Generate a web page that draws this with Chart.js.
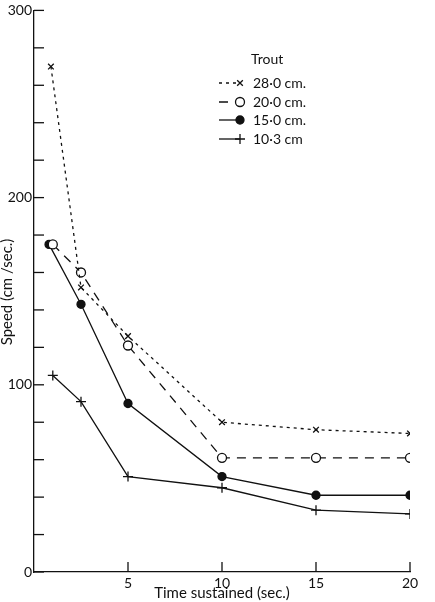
<!DOCTYPE html>
<html>
<head>
<meta charset="utf-8">
<script src="https://cdn.jsdelivr.net/npm/chart.js@4/dist/chart.umd.min.js"></script>
<style>
  html, body { margin: 0; padding: 0; background: #fff; }
  #wrap { width: 435px; height: 602px; }
</style>
</head>
<body>
<div id="wrap"><canvas id="trout" width="435" height="602"></canvas></div>
<script>
// Trout — sustained swimming speed vs time sustained
const seriesLabels = ["28·0 cm.", "20·0 cm.", "15·0 cm.", "10·3 cm"]

const times28  = [0.9, 2.5, 5, 10, 15, 20]
const speed28  = [270, 152, 126, 80, 76, 74]

const times20  = [1, 2.5, 5, 10, 15, 20]
const speed20  = [175, 160, 121, 61, 61, 61]

const times15  = [0.8, 2.5, 5, 10, 15, 20]
const speed15  = [175, 143, 90, 51, 41, 41]

const times103 = [1, 2.5, 5, 10, 15, 20]
const speed103 = [105, 91, 51, 45, 33, 31]

const yTickLabels = [0, 100, 200, 300]
const xTickLabels = [5, 10, 15, 20]

const ink  = "#111"
const font = "Lato, 'Open Sans', sans-serif"

const pairs = (xs, ys) => xs.map((x, i) => ({ x, y: ys[i] }))

const styles = [
  { dash: [3, 4],  pointStyle: "crossRot", radius: 4,   fill: ink },
  { dash: [9, 7],  pointStyle: "circle",   radius: 4.5, fill: "#fff" },
  { dash: [],      pointStyle: "circle",   radius: 4,   fill: ink },
  { dash: [],      pointStyle: "cross",    radius: 5,   fill: ink }
]

const series = [
  pairs(times28, speed28),
  pairs(times20, speed20),
  pairs(times15, speed15),
  pairs(times103, speed103)
]

// ── inward ticks, legend, y title ─────────────────────────────────────────
const extras = {
  id: "extras",
  afterDraw(chart) {
    const { ctx, chartArea: a, scales } = chart
    ctx.save()
    ctx.strokeStyle = ink
    ctx.lineWidth = 1.3

    scales.y.ticks.forEach(t => {
      const y = scales.y.getPixelForValue(t.value)
      ctx.beginPath()
      ctx.moveTo(a.left, y)
      ctx.lineTo(a.left + 10, y)
      ctx.stroke()
    })
    scales.x.ticks.forEach(t => {
      if (t.value === 0) return
      const x = scales.x.getPixelForValue(t.value)
      ctx.beginPath()
      ctx.moveTo(x, a.bottom)
      ctx.lineTo(x, a.bottom - 10)
      ctx.stroke()
    })

    // y title
    ctx.fillStyle = ink
    ctx.font = "15px " + font
    ctx.textAlign = "center"
    ctx.textBaseline = "middle"
    ctx.translate(7, 292)
    ctx.rotate(-Math.PI / 2)
    ctx.fillText("Speed (cm /sec.)", 0, 0)
    ctx.restore()

    // legend
    ctx.save()
    ctx.fillStyle = ink
    ctx.strokeStyle = ink
    ctx.font = "14px " + font
    ctx.textBaseline = "middle"
    ctx.textAlign = "left"
    ctx.fillText("Trout", 251, 59)
    const rows = [83, 102, 120, 139]
    seriesLabels.forEach((lab, i) => {
      const s = styles[i]
      const y = rows[i]
      ctx.lineWidth = 1.3
      ctx.setLineDash(s.dash)
      ctx.beginPath()
      ctx.moveTo(219, y)
      ctx.lineTo(240, y)
      ctx.stroke()
      ctx.setLineDash([])
      ctx.fillStyle = s.fill
      Chart.helpers.drawPoint(ctx, { pointStyle: s.pointStyle, radius: s.radius, borderWidth: 1.3, rotation: 0 }, 240, y)
      ctx.fillStyle = ink
      ctx.fillText(lab, 253, y)
    })
    ctx.restore()
  }
}

new Chart(document.getElementById("trout"), {
  type: "line",
  data: {
    datasets: series.map((data, i) => ({
      label: seriesLabels[i],
      data,
      borderColor: ink,
      borderWidth: 1.3,
      borderDash: styles[i].dash,
      tension: 0,
      pointStyle: styles[i].pointStyle,
      pointRadius: styles[i].radius,
      pointBorderColor: ink,
      pointBorderWidth: 1.3,
      pointBackgroundColor: styles[i].fill
    }))
  },
  options: {
    responsive: false,
    animation: false,
    layout: { padding: { top: 8, right: 25, left: 0, bottom: 0 } },
    plugins: { legend: { display: false }, tooltip: { enabled: false } },
    scales: {
      x: {
        type: "linear",
        min: 0,
        max: 20,
        grid: { display: false, drawTicks: false },
        border: { display: true, color: ink, width: 1.3 },
        ticks: {
          stepSize: 5,
          padding: 3,
          color: ink,
          font: { family: font, size: 14 },
          callback: v => xTickLabels.includes(v) ? String(v) : ""
        },
        title: {
          display: true,
          text: "Time sustained (sec.)",
          color: ink,
          font: { family: font, size: 15 },
          padding: { top: 0, bottom: 0 }
        },
        afterFit: s => { s.height = 30 }
      },
      y: {
        min: 0,
        max: 300,
        grid: { display: false, drawTicks: false },
        border: { display: true, color: ink, width: 1.3 },
        ticks: {
          stepSize: 20,
          padding: 2,
          color: ink,
          font: { family: font, size: 14 },
          callback: v => yTickLabels.includes(v) ? String(v) : ""
        },
        afterFit: s => { s.width = 34 }
      }
    }
  },
  plugins: [extras]
})
</script>
</body>
</html>
